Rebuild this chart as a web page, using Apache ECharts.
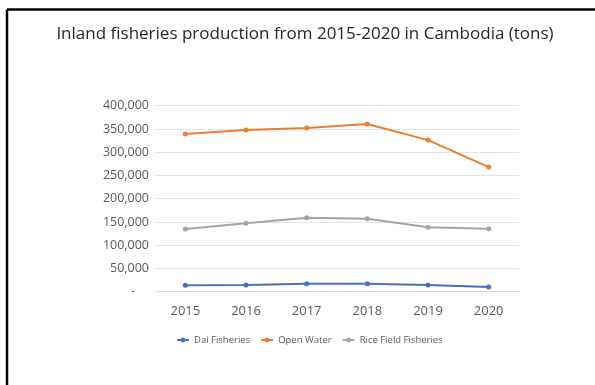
<!DOCTYPE html>
<html>
<head>
<meta charset="utf-8">
<script src="https://cdn.jsdelivr.net/npm/echarts@6/dist/echarts.min.js"></script>
<style>
html,body{margin:0;padding:0;background:#fff;}
#chart{width:595px;height:385px;}
</style>
</head>
<body>
<div id="chart"></div>
<script>
const years = ['2015', '2016', '2017', '2018', '2019', '2020'];
const daiFisheries = [13700, 14200, 17000, 17200, 14400, 10100];
const openWater = [339000, 348000, 352000, 360500, 326000, 268000];
const riceField = [135000, 147000, 159000, 157000, 138500, 135500];
const yTicks = [0, 50000, 100000, 150000, 200000, 250000, 300000, 350000, 400000];

const chart = echarts.init(document.getElementById('chart'), null, {renderer: 'canvas'});
const FONT = '"Open Sans", sans-serif';
function mk(name, data, color) {
  return {
    name: name, type: 'line', data: data,
    symbol: 'circle', symbolSize: 5,
    lineStyle: {color: color, width: 2},
    itemStyle: {color: color},
    emphasis: {disabled: true}
  };
}
chart.setOption({
  animation: false,
  backgroundColor: '#fff',
  title: {
    text: 'Inland fisheries production from 2015-2020 in Cambodia (tons)',
    left: 300, top: 21, textAlign: 'center',
    textStyle: {fontFamily: FONT, fontSize: 17, fontWeight: 'normal', color: '#262626'}
  },
  legend: {
    left: 171, top: 330,
    itemWidth: 12, itemHeight: 6, itemGap: 10,
    textStyle: {fontFamily: FONT, fontSize: 9.5, color: '#595959'},
    data: ['Dai Fisheries', 'Open Water', 'Rice Field Fisheries']
  },
  grid: {left: 155, right: 76, top: 105.7, bottom: 93.3},
  xAxis: {
    type: 'category', data: years, boundaryGap: true,
    axisLine: {show: true, lineStyle: {color: '#D9D9D9'}},
    axisTick: {show: false},
    axisLabel: {fontFamily: FONT, fontSize: 13, color: '#595959', margin: 13}
  },
  yAxis: {
    type: 'value', min: 0, max: yTicks[yTicks.length - 1], interval: yTicks[1] - yTicks[0],
    axisLine: {show: false}, axisTick: {show: false},
    splitLine: {lineStyle: {color: '#E4E4E4', width: 1}},
    axisLabel: {
      fontFamily: FONT, fontSize: 12.5, color: '#595959', margin: 6,
      formatter: function (v) { return v === 0 ? '{z|-}' : v.toLocaleString('en-US'); },
      rich: {z: {padding: [0, 14, 0, 0], fontFamily: FONT, fontSize: 12.5, color: '#595959'}}
    }
  },
  graphic: [
    {type: 'line', shape: {x1: 7, y1: 9.5, x2: 595, y2: 9.5}, style: {stroke: '#000', lineWidth: 2.5}},
    {type: 'line', shape: {x1: 7, y1: 9.5, x2: 7, y2: 385}, style: {stroke: '#000', lineWidth: 2.5}}
  ],
  series: [
    mk('Dai Fisheries', daiFisheries, '#4472C4'),
    mk('Open Water', openWater, '#ED7D31'),
    mk('Rice Field Fisheries', riceField, '#A5A5A5')
  ]
});
</script>
</body>
</html>
